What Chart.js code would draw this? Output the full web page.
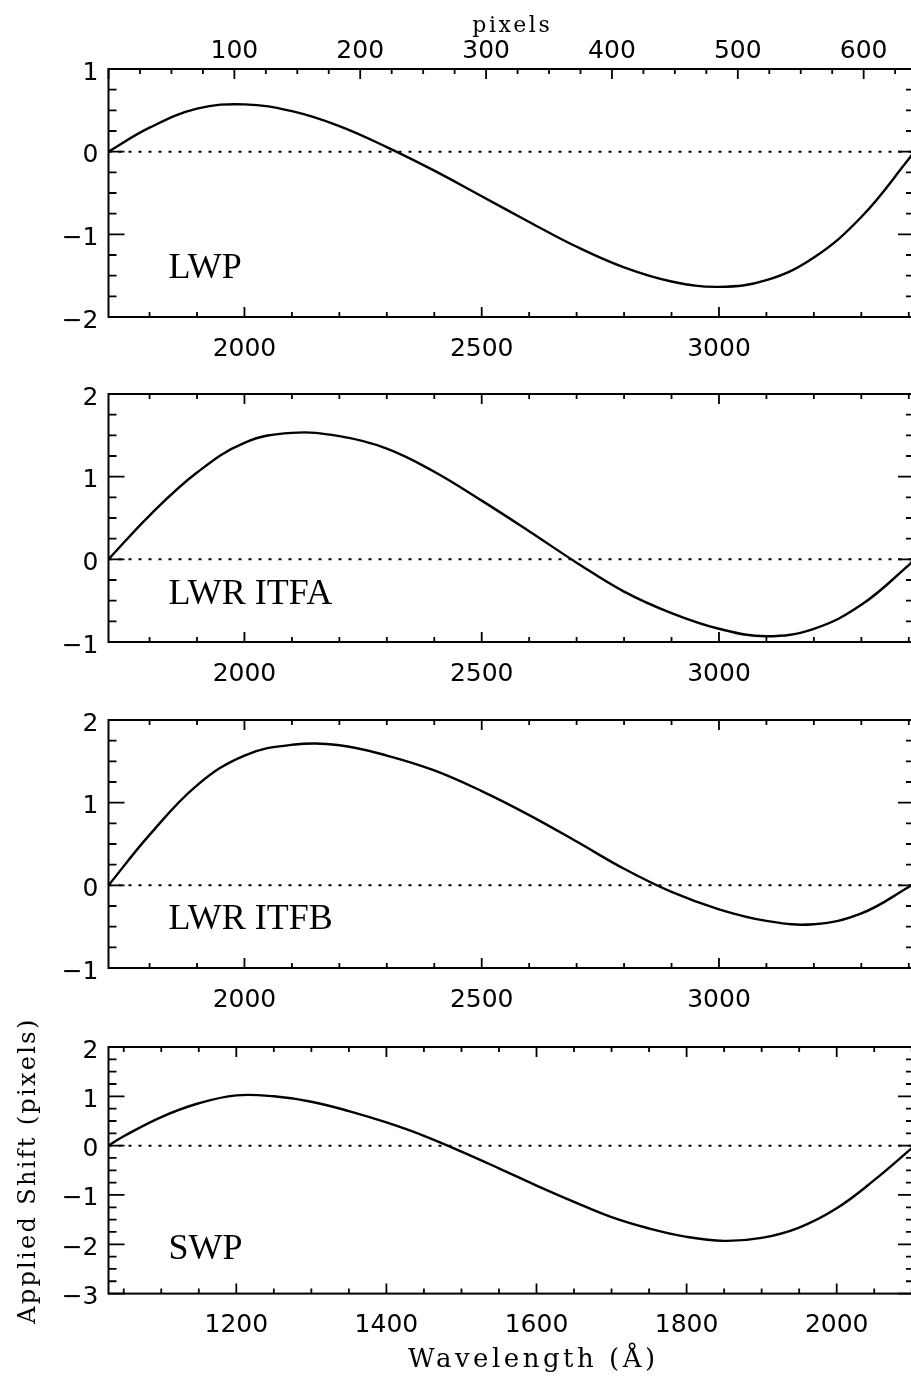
<!DOCTYPE html>
<html>
<head>
<meta charset="utf-8">
<script src="https://cdn.jsdelivr.net/npm/chart.js@4.4.1/dist/chart.umd.min.js"></script>
<style>
  html, body { margin: 0; padding: 0; background: #fff; width: 911px; height: 1377px; overflow: hidden; }
  .panel { position: absolute; left: 0; width: 920px; }
</style>
</head>
<body>
<div class="panel" id="p1"><canvas id="c1"></canvas></div>
<div class="panel" id="p2"><canvas id="c2"></canvas></div>
<div class="panel" id="p3"><canvas id="c3"></canvas></div>
<div class="panel" id="p4"><canvas id="c4"></canvas></div>
<script>
// tick labels
const pixelTicks = [100, 200, 300, 400, 500, 600];
const longWaveTicks = [2000, 2500, 3000];
const shortWaveTicks = [1200, 1400, 1600, 1800, 2000];
const lwpTicksY = [-2, -1, 0, 1];
const lwrTicksY = [-1, 0, 1, 2];
const swpTicksY = [-3, -2, -1, 0, 1, 2];

// long-wavelength grid (Angstrom), shared by the three LW cameras
const lwWave = [1713.5, 1800, 1900, 2000, 2100, 2200, 2300, 2400, 2500, 2600, 2700, 2800, 2900, 3000, 3100, 3200, 3300, 3400, 3411];

// LWP
const lwpShift  = [0, 0.29, 0.52, 0.572, 0.49, 0.31, 0.055, -0.23, -0.54, -0.85, -1.15, -1.40, -1.57, -1.635, -1.555, -1.28, -0.79, -0.09, 0];
// LWR ITFA
const itfaShift = [0, 0.53, 1.05, 1.41, 1.53, 1.49, 1.34, 1.06, 0.71, 0.34, -0.04, -0.39, -0.65, -0.84, -0.93, -0.84, -0.55, -0.07, 0];
// LWR ITFB
const itfbShift = [0, 0.61, 1.21, 1.57, 1.70, 1.695, 1.57, 1.39, 1.14, 0.85, 0.53, 0.20, -0.08, -0.29, -0.43, -0.47, -0.34, -0.02, 0.03];

// SWP
const swpWave  = [1029.7, 1050, 1100, 1150, 1200, 1250, 1300, 1350, 1400, 1450, 1500, 1550, 1600, 1650, 1700, 1750, 1800, 1850, 1900, 1950, 2000, 2050, 2100, 2103];
const swpShift = [0, 0.19, 0.58, 0.86, 1.02, 1.00, 0.89, 0.70, 0.47, 0.20, -0.12, -0.46, -0.81, -1.14, -1.45, -1.68, -1.85, -1.93, -1.87, -1.66, -1.27, -0.70, -0.05, 0];

const tickFont = { family: 'DejaVu Sans', size: 25 };

// frame with inward ticks on all four sides, plus the panel label
const frameTicks = {
  id: 'frameTicks',
  afterDatasetsDraw(chart, args, o) {
    const { ctx, chartArea: a, scales } = chart;
    const xs = scales.x, ys = scales.y;
    ctx.save();
    ctx.strokeStyle = '#000';
    ctx.lineWidth = 1.8;
    ctx.beginPath();
    const first = Math.ceil(xs.min / o.xMinor);
    for (let i = first; i * o.xMinor <= xs.max; i++) {
      const v = i * o.xMinor;
      const px = xs.getPixelForValue(v);
      const len = v % o.xMajor === 0 ? 10 : 5;
      ctx.moveTo(px, a.bottom); ctx.lineTo(px, a.bottom - len);
      if (!scales.x2) { ctx.moveTo(px, a.top); ctx.lineTo(px, a.top + len); }
    }
    if (scales.x2) {
      const t = scales.x2;
      for (let v = 0; v <= t.max; v += 25) {
        const px = t.getPixelForValue(v);
        const len = v % 100 === 0 ? 10 : 5;
        ctx.moveTo(px, a.top); ctx.lineTo(px, a.top + len);
      }
    }
    const n = Math.round((ys.max - ys.min) / 0.25);
    for (let i = 0; i <= n; i++) {
      const v = ys.min + i * 0.25;
      const py = ys.getPixelForValue(v);
      const len = i % 4 === 0 ? 16 : 8;
      ctx.moveTo(a.left, py); ctx.lineTo(a.left + len, py);
      ctx.moveTo(a.right, py); ctx.lineTo(a.right - len, py);
    }
    ctx.stroke();
    ctx.lineWidth = 2;
    ctx.strokeRect(a.left, a.top, a.right - a.left, a.bottom - a.top);

    ctx.fillStyle = '#000';
    ctx.font = '36px "Liberation Serif"';
    ctx.textBaseline = 'alphabetic';
    ctx.textAlign = 'left';
    ctx.fillText(o.label, a.left + 60, ys.getPixelForValue(o.labelY));
    ctx.restore();
  }
};

// axis titles
const titles = {
  id: 'titles',
  afterDraw(chart, args, o) {
    const ctx = chart.ctx;
    (o.items || []).forEach(t => {
      ctx.save();
      ctx.font = t.font;
      ctx.fillStyle = '#000';
      ctx.letterSpacing = t.spacing + 'px';
      ctx.textAlign = 'center';
      ctx.textBaseline = 'alphabetic';
      ctx.translate(t.x, t.y);
      if (t.rot) ctx.rotate(t.rot);
      ctx.fillText(t.text, t.spacing / 2, 0);
      ctx.restore();
    });
  }
};

function fmtY(v) { return v < 0 ? '\u2212' + Math.abs(v) : String(v); }

function makePanel(n, p) {
  const div = document.getElementById('p' + n);
  const canvas = document.getElementById('c' + n);
  const topH = p.pixelAxis ? p.plotTop : 30;
  const h = Math.round(topH + p.plotH + p.bottomH);
  div.style.top = (p.plotTop - topH) + 'px';
  canvas.width = 920;
  canvas.height = h;
  const bottomH = h - topH - p.plotH;

  const scales = {
    x: {
      type: 'linear', position: 'bottom', min: p.xMin, max: p.xMax,
      afterBuildTicks: s => { s.ticks = p.xTicks.map(v => ({ value: v })); },
      afterFit: s => { s.height = bottomH; },
      grid: { display: false, drawTicks: false }, border: { display: false },
      ticks: { color: '#000', font: tickFont, padding: 17, maxRotation: 0, autoSkip: false, callback: v => String(v) }
    },
    y: {
      type: 'linear', min: p.yMin, max: p.yMax,
      afterBuildTicks: s => { s.ticks = p.yTicks.map(v => ({ value: v })); },
      afterFit: s => { s.width = 108.5; },
      grid: { display: false, drawTicks: false }, border: { display: false },
      ticks: { color: '#000', font: tickFont, padding: 10, labelOffset: 4, autoSkip: false, callback: fmtY }
    }
  };
  if (p.pixelAxis) {
    scales.x2 = {
      type: 'linear', position: 'top', min: 0, max: 640,
      afterBuildTicks: s => { s.ticks = pixelTicks.map(v => ({ value: v })); },
      afterFit: s => { s.height = topH; },
      grid: { display: false, drawTicks: false }, border: { display: false },
      ticks: { color: '#000', font: tickFont, padding: 3, maxRotation: 0, autoSkip: false, callback: v => String(v) }
    };
  }

  return new Chart(canvas, {
    type: 'scatter',
    data: {
      datasets: [
        {
          data: p.wave.map((w, i) => ({ x: w, y: p.shift[i] })),
          borderColor: '#000', borderWidth: 2.4, pointRadius: 0,
          showLine: true, tension: 0.4, fill: false
        },
        {
          data: [{ x: p.xMin, y: 0 }, { x: p.xMax, y: 0 }],
          borderColor: '#000', borderWidth: 2, borderDash: [3, 7],
          pointRadius: 0, showLine: true, fill: false
        }
      ]
    },
    options: {
      responsive: false,
      animation: false,
      events: [],
      layout: { padding: { top: p.pixelAxis ? 0 : topH, right: 6, left: 0, bottom: 0 } },
      scales: scales,
      plugins: {
        legend: { display: false },
        tooltip: { enabled: false },
        frameTicks: { xMinor: p.xMinor, xMajor: p.xMajor, label: p.label, labelY: p.labelY },
        titles: { items: p.texts || [] }
      }
    },
    plugins: [frameTicks, titles]
  });
}

makePanel(1, {
  wave: lwWave, shift: lwpShift, label: 'LWP', labelY: -1.53,
  plotTop: 69, plotH: 248, bottomH: 55, pixelAxis: true,
  xMin: 1713.5, xMax: 3411, xTicks: longWaveTicks, xMinor: 100, xMajor: 500,
  yMin: -2, yMax: 1, yTicks: lwpTicksY,
  texts: [{ text: 'pixels', x: 511, y: 31.7, font: '22px "DejaVu Serif"', spacing: 2.5 }]
});
makePanel(2, {
  wave: lwWave, shift: itfaShift, label: 'LWR ITFA', labelY: -0.545,
  plotTop: 394.3, plotH: 248, bottomH: 55,
  xMin: 1713.5, xMax: 3411, xTicks: longWaveTicks, xMinor: 100, xMajor: 500,
  yMin: -1, yMax: 2, yTicks: lwrTicksY
});
makePanel(3, {
  wave: lwWave, shift: itfbShift, label: 'LWR ITFB', labelY: -0.527,
  plotTop: 720.3, plotH: 248, bottomH: 55,
  xMin: 1713.5, xMax: 3411, xTicks: longWaveTicks, xMinor: 100, xMajor: 500,
  yMin: -1, yMax: 2, yTicks: lwrTicksY
});
makePanel(4, {
  wave: swpWave, shift: swpShift, label: 'SWP', labelY: -2.3,
  plotTop: 1046.7, plotH: 246.6, bottomH: 84.4,
  xMin: 1029.7, xMax: 2103, xTicks: shortWaveTicks, xMinor: 50, xMajor: 200,
  yMin: -3, yMax: 2, yTicks: swpTicksY,
  texts: [
    { text: 'Wavelength (\u00c5)', x: 531.5, y: 350.3, font: '26px "DejaVu Serif"', spacing: 3.5 },
    { text: 'Applied Shift (pixels)', x: 35, y: 154.8, rot: -Math.PI / 2, font: '24px "DejaVu Serif"', spacing: 2.3 }
  ]
});
</script>
</body>
</html>
